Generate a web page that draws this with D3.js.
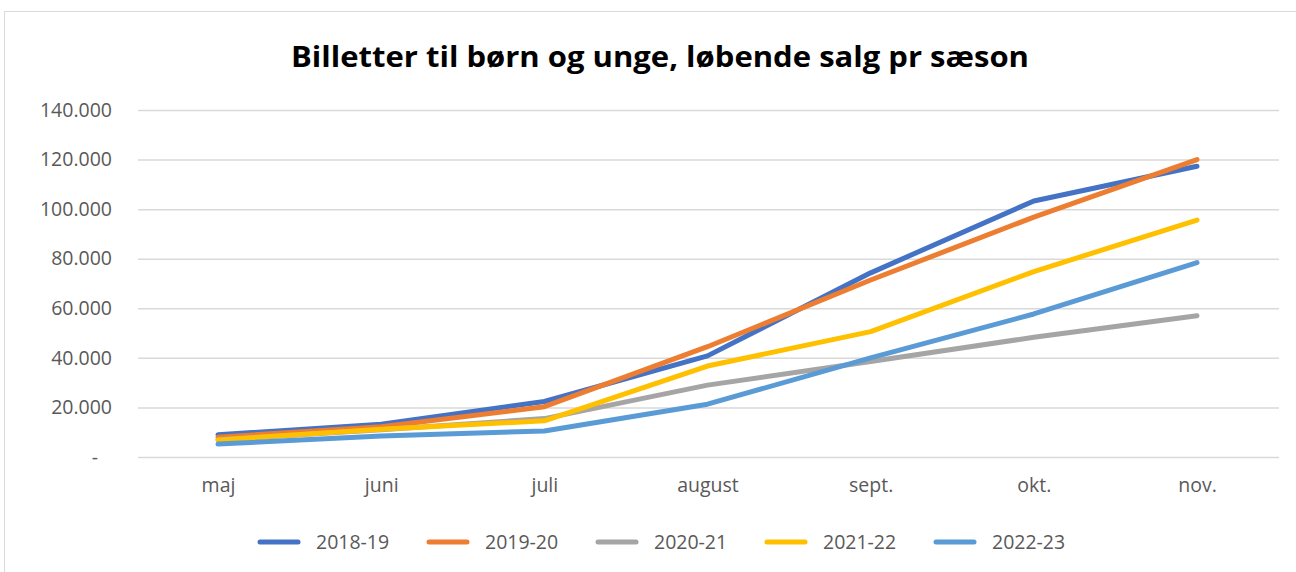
<!DOCTYPE html>
<html lang="da">
<head>
<meta charset="utf-8">
<title>Billetter til børn og unge</title>
<script src="https://cdn.jsdelivr.net/npm/d3@7"></script>
<style>
  body { margin: 0; background: #fff; font-family: 'Open Sans', sans-serif; }
  .tick text { fill: #595959; font-size: 19.5px; font-family: 'Open Sans', sans-serif; }
</style>
</head>
<body>
<script>
var w = 1296, h = 572;

var months = ["maj", "juni", "juli", "august", "sept.", "okt.", "nov."];
var seasons = ["2018-19", "2019-20", "2020-21", "2021-22", "2022-23"];
var colours = ["#4472c4", "#ed7d31", "#a5a5a5", "#ffc000", "#5b9bd5"];
var yTicks = [0, 20000, 40000, 60000, 80000, 100000, 120000, 140000];

var s2018 = [9000, 13200, 22400, 40800, 74300, 103300, 117300];
var s2019 = [8000, 12200, 20300, 44500, 71400, 96800, 120000];
var s2020 = [7000, 11000, 15500, 29000, 38500, 48300, 57000];
var s2021 = [6900, 11200, 14600, 36700, 50600, 74800, 95600];
var s2022 = [5200, 8500, 10500, 21300, 40000, 57700, 78400];
var values = [s2018, s2019, s2020, s2021, s2022];

var svg = d3.select("body").append("svg")
  .attr("width", w)
  .attr("height", h);

// chart frame
svg.append("rect")
  .attr("x", 4.5).attr("y", 11.5)
  .attr("width", 1300).attr("height", 570)
  .attr("fill", "none")
  .attr("stroke", "#d9d9d9")
  .attr("stroke-width", 1);

svg.append("text")
  .attr("x", 660).attr("y", 67)
  .attr("text-anchor", "middle")
  .style("font-family", "'Open Sans', sans-serif")
  .style("font-weight", "bold")
  .style("font-size", "29px")
  .attr("textLength", 738)
  .attr("lengthAdjust", "spacingAndGlyphs")
  .text("Billetter til børn og unge, løbende salg pr sæson");

var x = d3.scalePoint()
  .domain(months)
  .range([218, 1197]);

var y = d3.scaleLinear()
  .domain([0, 140000])
  .range([457, 110]);

var fmt = function(v) {
  if (v === 0) return "-";
  return d3.format(",")(v).replace(/,/g, ".");
};

// gridlines + y labels
var yAxis = svg.append("g")
  .attr("transform", "translate(138,0)")
  .call(d3.axisLeft(y).tickValues(yTicks).tickSize(-1141).tickFormat(fmt).tickPadding(26));
yAxis.select(".domain").remove();
yAxis.selectAll(".tick line").attr("stroke", "#d9d9d9").attr("stroke-width", 1.5);
yAxis.selectAll(".tick text")
  .attr("text-anchor", function(d) { return d === 0 ? "middle" : "end"; })
  .attr("dx", function(d) { return d === 0 ? -17 : 0; });

var xAxis = svg.append("g")
  .attr("transform", "translate(0,457)")
  .call(d3.axisBottom(x).tickSize(0).tickPadding(21));
xAxis.select(".domain").remove();

var line = d3.line()
  .x(function(d, i) { return x(months[i]); })
  .y(function(d) { return y(d); });

svg.selectAll(".series")
  .data(values)
  .enter()
  .append("path")
  .attr("class", "series")
  .attr("d", line)
  .attr("fill", "none")
  .attr("stroke", function(d, i) { return colours[i]; })
  .attr("stroke-width", 5)
  .attr("stroke-linecap", "round")
  .attr("stroke-linejoin", "round");

// legend
var legend = svg.append("g").selectAll("g")
  .data(seasons)
  .enter()
  .append("g")
  .attr("transform", function(d, i) { return "translate(" + (260 + i * 169) + ",542)"; });

legend.append("line")
  .attr("x1", 0).attr("x2", 38)
  .attr("stroke", function(d, i) { return colours[i]; })
  .attr("stroke-width", 5)
  .attr("stroke-linecap", "round");

legend.append("text")
  .attr("x", 56).attr("y", 7)
  .style("font-size", "19.5px")
  .style("fill", "#595959")
  .text(function(d) { return d; });
</script>
</body>
</html>
